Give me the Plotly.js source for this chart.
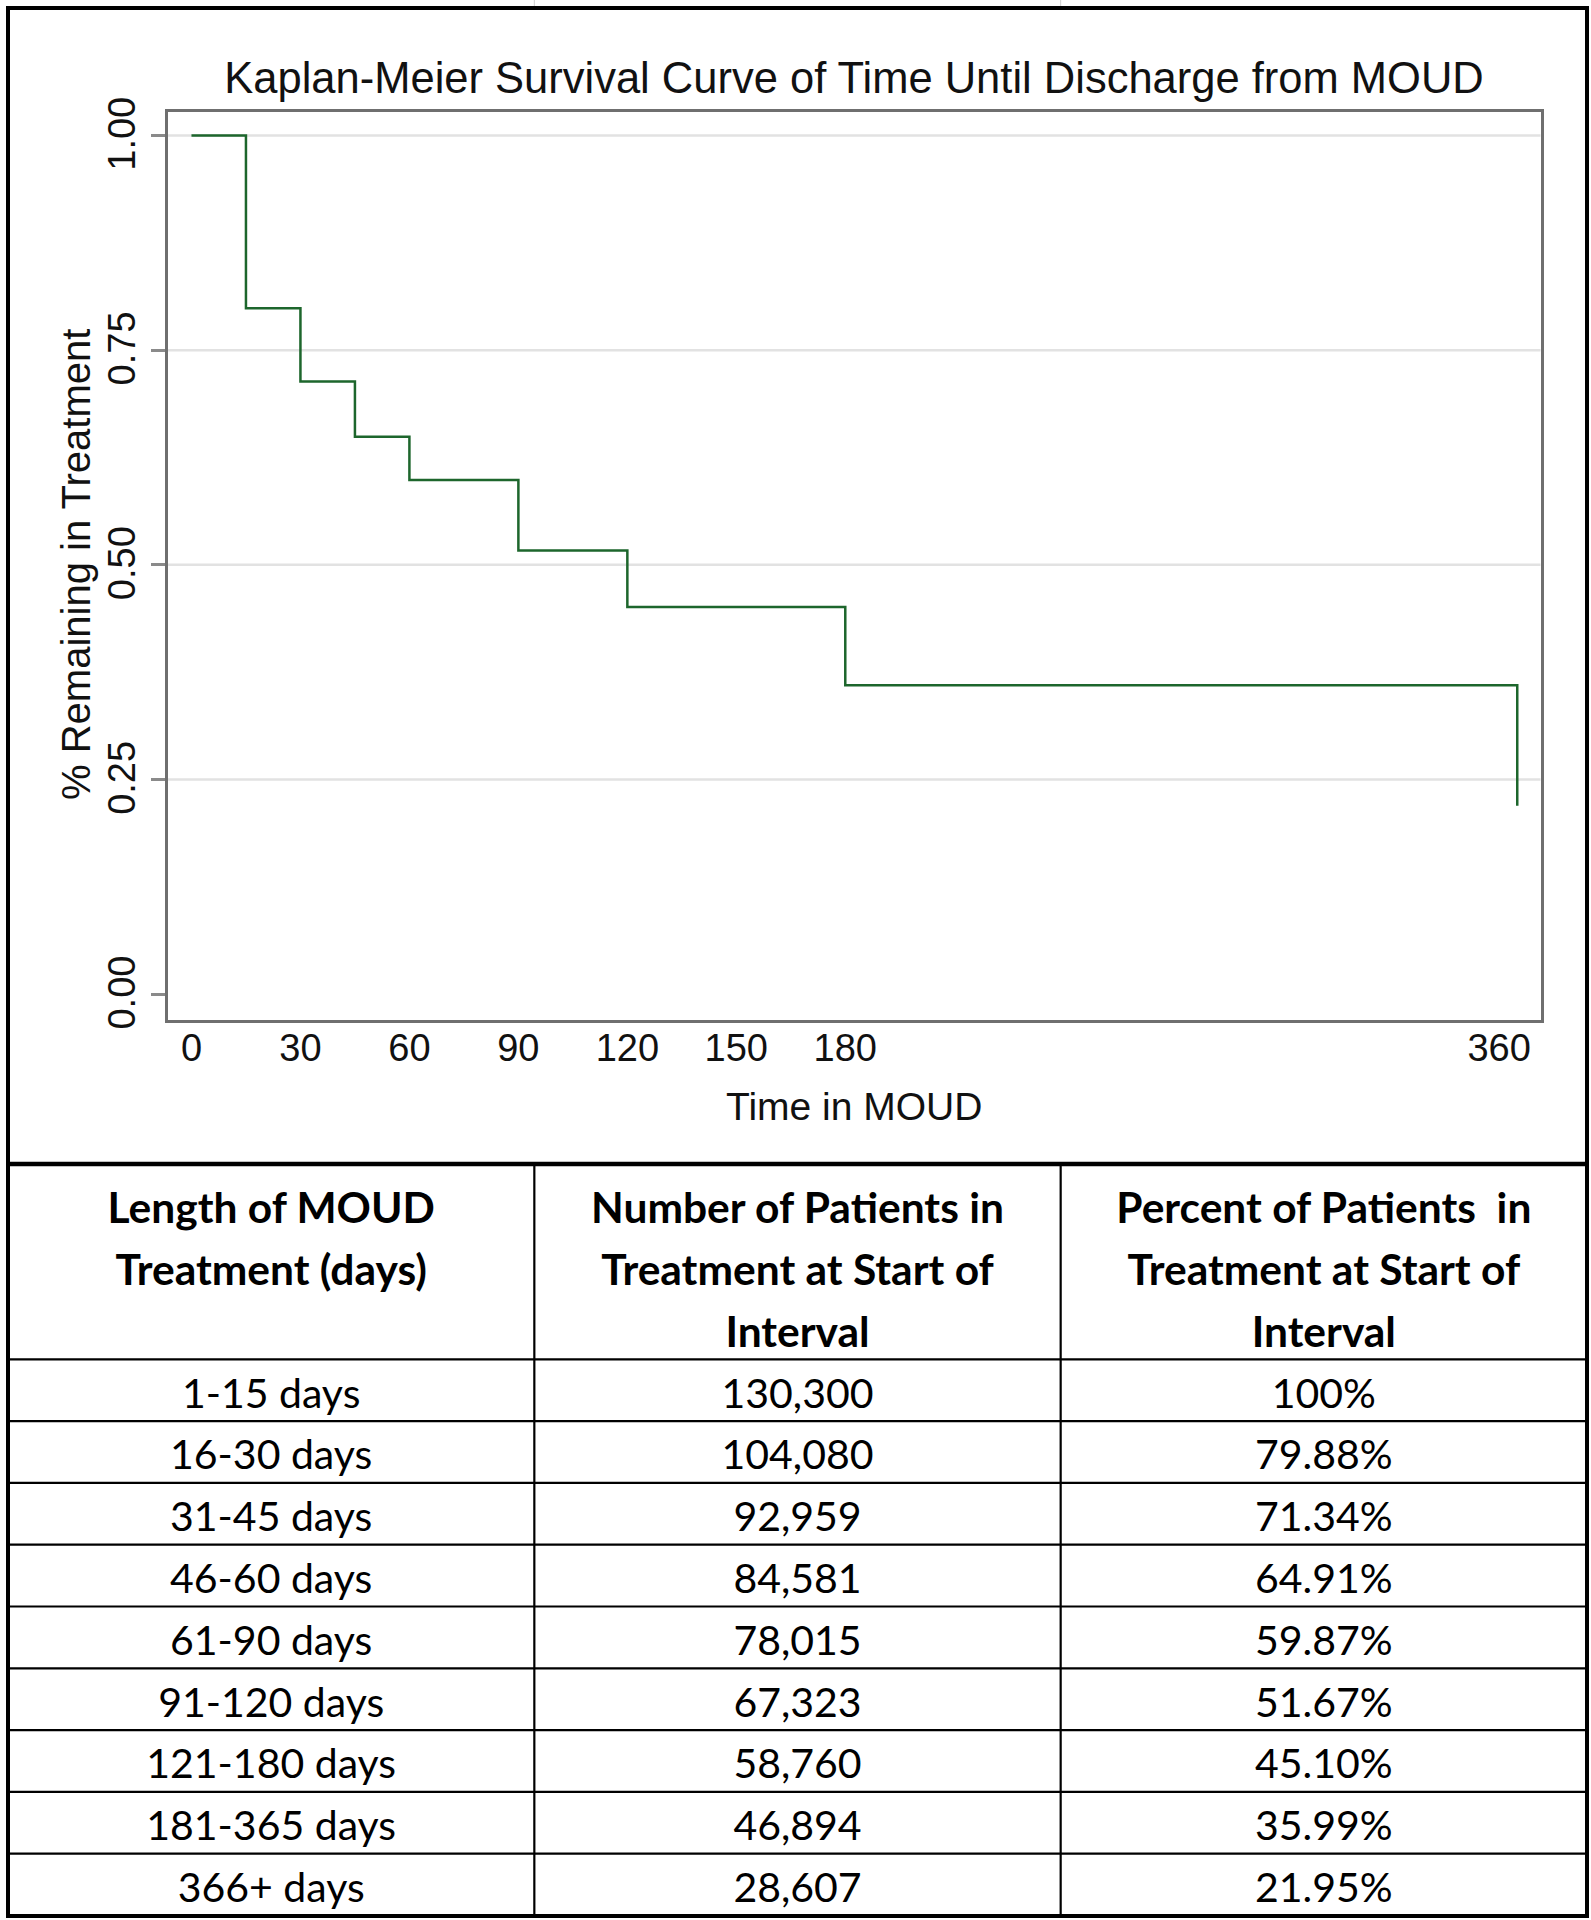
<!DOCTYPE html>
<html>
<head>
<meta charset="utf-8">
<script src="https://cdn.plot.ly/plotly-3.0.1.min.js"></script>
<style>
  html, body { margin: 0; padding: 0; background: #ffffff; }
  #chart { width: 1591px; height: 1920px; }
</style>
</head>
<body>
<div id="chart"></div>
<script>
// ---- data ----
const intervalLabels = ['1-15 days', '16-30 days', '31-45 days', '46-60 days', '61-90 days',
                        '91-120 days', '121-180 days', '181-365 days', '366+ days'];
const intervalStartDay = [0, 15, 30, 45, 60, 90, 120, 180, 365];
const patientsAtStart = [130300, 104080, 92959, 84581, 78015, 67323, 58760, 46894, 28607];
const percentAtStart = [100, 79.88, 71.34, 64.91, 59.87, 51.67, 45.10, 35.99, 21.95];

const xTickVals = [0, 30, 60, 90, 120, 150, 180, 360];
const yTickVals = [0, 0.25, 0.5, 0.75, 1];
const yTickText = ['0.00', '0.25', '0.50', '0.75', '1.00'];
const yGridVals = [0.25, 0.5, 0.75, 1];

// header: one list of text lines per column
const headerCol1 = ['Length of MOUD', 'Treatment (days)', ''];
const headerCol2 = ['Number of Patients in', 'Treatment at Start of', 'Interval'];
const headerCol3 = ['Percent of Patients\u00a0 in', 'Treatment at Start of', 'Interval'];

// ---- helpers (page pixels -> paper fractions) ----
const W = 1591, H = 1920;
const fx = p => p / W;
const fy = p => 1 - p / H;

const survival = percentAtStart.map(p => p / 100);
const patientsText = patientsAtStart.map(n => n.toLocaleString('en-US'));
const percentText = percentAtStart.map(p => (p === 100 ? '100' : p.toFixed(2)) + '%');

const sansFont = 'Liberation Sans, Arial, Helvetica, sans-serif';
const tableFont = 'Lato, Carlito, Calibri, sans-serif';

// table geometry (page pixels)
const tableLeft = 8, tableRight = 1587, tableTop = 1164, tableBottom = 1916;
const rowH = 61.8;
const bodyTop = 1359.3;
const textShift = 9.5;   // moves the cell text to the vertical middle of each row
const headerTop = bodyTop - headerCol2.length * rowH;

const curve = {
  type: 'scatter',
  mode: 'lines',
  x: intervalStartDay,
  y: survival,
  line: { shape: 'hv', color: '#1d662c', width: 2.5 },
  hoverinfo: 'x+y',
  showlegend: false,
  xaxis: 'x', yaxis: 'y'
};

const table = {
  type: 'table',
  domain: { x: [fx(tableLeft), fx(tableRight)], y: [0, fy(headerTop + textShift)] },
  columnwidth: [1, 1, 1],
  header: {
    values: [headerCol1, headerCol2, headerCol3],
    align: 'center',
    height: rowH,
    font: { family: tableFont, size: 42.5, color: '#000000', weight: 'bold' },
    line: { color: 'rgba(0,0,0,0)', width: 0 },
    fill: { color: 'rgba(0,0,0,0)' }
  },
  cells: {
    values: [intervalLabels, patientsText, percentText],
    align: 'center',
    height: rowH,
    font: { family: tableFont, size: 41, color: '#000000' },
    line: { color: 'rgba(0,0,0,0)', width: 0 },
    fill: { color: 'rgba(0,0,0,0)' }
  }
};

const shapes = yGridVals.map(v => ({
  type: 'line', xref: 'x domain', yref: 'y', x0: 0, x1: 1, y0: v, y1: v,
  line: { color: '#e2e2e2', width: 2.5 }, layer: 'below'
}));
// table rules: column separators and row separators
const colW = (tableRight - tableLeft) / 3;
[1, 2].forEach(k => shapes.push({
  type: 'line', xref: 'paper', yref: 'paper',
  x0: fx(tableLeft + k * colW), x1: fx(tableLeft + k * colW), y0: fy(tableTop), y1: fy(tableBottom),
  line: { color: '#000000', width: 2.2 }, layer: 'above'
}));
intervalLabels.forEach((_, i) => shapes.push({
  type: 'line', xref: 'paper', yref: 'paper',
  x0: fx(tableLeft), x1: fx(tableRight), y0: fy(bodyTop + i * rowH), y1: fy(bodyTop + i * rowH),
  line: { color: '#000000', width: 2.2 }, layer: 'above'
}));
// outer frame of the figure and separator between chart and table
shapes.push({
  type: 'rect', xref: 'paper', yref: 'paper',
  x0: fx(tableLeft), x1: fx(tableRight), y0: fy(tableBottom), y1: fy(8),
  line: { color: '#000000', width: 4 }, fillcolor: 'rgba(0,0,0,0)', layer: 'above'
});
shapes.push({
  type: 'line', xref: 'paper', yref: 'paper',
  x0: fx(tableLeft), x1: fx(tableRight), y0: fy(tableTop), y1: fy(tableTop),
  line: { color: '#000000', width: 4.5 }, layer: 'above'
});
// faint remnants of a table above the figure
[1, 2].forEach(k => shapes.push({
  type: 'line', xref: 'paper', yref: 'paper',
  x0: fx(tableLeft + k * colW), x1: fx(tableLeft + k * colW), y0: fy(0), y1: fy(6),
  line: { color: '#cfcfcf', width: 1 }, layer: 'above'
}));

const layout = {
  width: W, height: H,
  margin: { l: 0, r: 0, t: 0, b: 0, pad: 0 },
  paper_bgcolor: '#ffffff',
  plot_bgcolor: '#ffffff',
  showlegend: false,
  title: {
    text: 'Kaplan-Meier Survival Curve of Time Until Discharge from MOUD',
    x: fx(854), xanchor: 'center', xref: 'paper',
    y: fy(78), yanchor: 'middle', yref: 'container',
    font: { family: sansFont, size: 43.5, color: '#111111' }
  },
  xaxis: {
    domain: [fx(167.5), fx(1540.5)],
    range: [-6.6, 371.4],
    tickmode: 'array', tickvals: xTickVals,
    ticks: '', showgrid: false, zeroline: false,
    showline: true, mirror: true, linecolor: '#6f6f6f', linewidth: 3,
    ticklabelstandoff: -7,
    tickfont: { family: sansFont, size: 38, color: '#111111' },
    fixedrange: true
  },
  yaxis: {
    domain: [fy(1019.5), fy(111.5)],
    range: [-0.0294, 1.0279],
    tickmode: 'array', tickvals: yTickVals, ticktext: yTickText,
    tickangle: -90,
    ticklabelshift: 4,
    ticks: 'outside', ticklen: 14, tickwidth: 3, tickcolor: '#8a8a8a',
    showgrid: false, zeroline: false,
    showline: true, mirror: true, linecolor: '#6f6f6f', linewidth: 3,
    tickfont: { family: sansFont, size: 38, color: '#111111' },
    fixedrange: true
  },
  annotations: [
    {
      text: 'Time in MOUD', xref: 'paper', yref: 'paper',
      x: fx(854), y: fy(1106), xanchor: 'center', yanchor: 'middle',
      showarrow: false, font: { family: sansFont, size: 39, color: '#111111' }
    },
    {
      text: '% Remaining in Treatment', xref: 'paper', yref: 'paper',
      x: fx(76), y: fy(565), xanchor: 'center', yanchor: 'middle', textangle: -90,
      showarrow: false, font: { family: sansFont, size: 40, color: '#111111' }
    }
  ],
  shapes: shapes
};

Plotly.newPlot('chart', [curve, table], layout, { displayModeBar: false, staticPlot: true });
</script>
</body>
</html>
